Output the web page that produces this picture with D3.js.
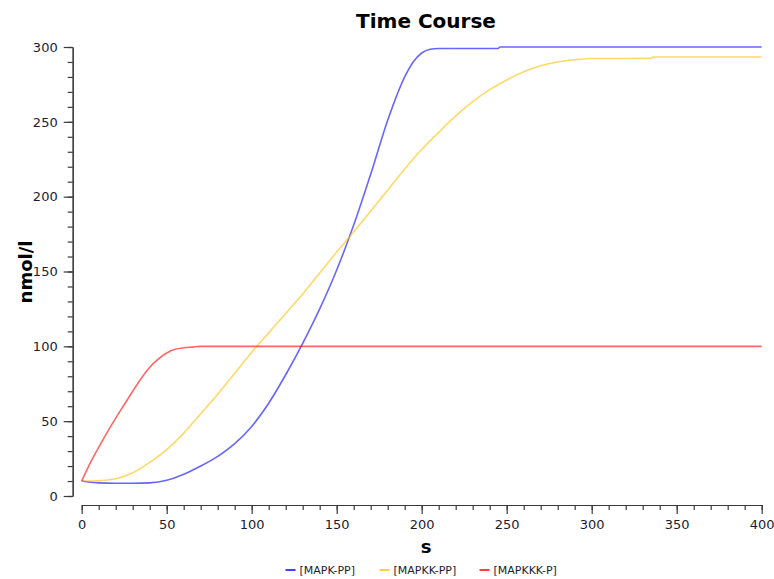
<!DOCTYPE html>
<html>
<head>
<meta charset="utf-8">
<script src="https://cdn.jsdelivr.net/npm/d3@7/dist/d3.min.js"></script>
<style>
  body { margin: 0; background: #fff; }
  svg { display: block; font-family: 'DejaVu Sans', Verdana, sans-serif; }
</style>
</head>
<body>
<svg id="chart" width="774" height="579"></svg>
<script>
// time course data (s -> nmol/l)
const mapkPP_t = [0, 5, 10, 20, 30, 40, 50, 60, 70, 80, 90, 100, 110, 120, 130, 140, 150, 160, 170, 180, 190, 195, 200, 205, 210, 245, 246, 400];
const mapkPP_v = [10, 9.2, 8.8, 8.5, 8.5, 8.8, 10.5, 14.5, 20, 26.5, 35, 46.5, 62, 81, 102, 125, 151, 181, 215, 251, 280, 290, 296, 298.5, 299, 299, 300, 300];

const mapkkPP_t = [0, 10, 20, 30, 40, 50, 60, 70, 80, 90, 100, 110, 120, 130, 140, 150, 160, 170, 180, 190, 200, 210, 220, 230, 240, 250, 260, 270, 280, 290, 300, 335, 336, 400];
const mapkkPP_v = [10, 10.2, 11.5, 15.5, 22.5, 31, 42, 55, 68, 82, 96, 109, 122, 135, 149, 163, 176.5, 190.5, 204.5, 218.5, 231.5, 243, 254, 263.5, 271.5, 278, 283.5, 287.5, 290, 291.5, 292.3, 292.4, 293.3, 293.3];

const mapkkkP_t = [0, 5, 10, 15, 20, 25, 30, 35, 40, 45, 50, 55, 60, 65, 70, 400];
const mapkkkP_v = [10, 22, 32.5, 42.5, 52, 61, 70, 78.5, 86, 91.5, 95.5, 98, 99, 99.5, 100, 100];

const seriesNames = ['[MAPK-PP]', '[MAPKK-PP]', '[MAPKKK-P]'];
const seriesColors = ['#0000ff', '#ffc000', '#ff0000'];

const xMajor = [0, 50, 100, 150, 200, 250, 300, 350, 400];
const yMajor = [0, 50, 100, 150, 200, 250, 300];

const svg = d3.select('#chart');

const x = d3.scaleLinear().domain([0, 400]).range([81.7, 761.7]);
const y = d3.scaleLinear().domain([0, 300]).range([496, 47]);

const series = [
  { name: seriesNames[0], color: seriesColors[0], t: mapkPP_t, v: mapkPP_v },
  { name: seriesNames[1], color: seriesColors[1], t: mapkkPP_t, v: mapkkPP_v },
  { name: seriesNames[2], color: seriesColors[2], t: mapkkkP_t, v: mapkkkP_v },
];

const styleAxis = (g) => {
  g.selectAll('path').attr('stroke', '#3a3a3a').attr('stroke-width', 1.2);
  g.selectAll('line').attr('stroke', '#3a3a3a').attr('stroke-width', 1.2);
  g.selectAll('text')
    .attr('fill', '#1c1c30')
    .style('font-size', '13px')
    .style('font-family', "'DejaVu Sans', Verdana, sans-serif");
};

// minor ticks first (no labels), then the labelled major ticks
svg.append('g')
  .attr('transform', 'translate(72.7,0)')
  .call(d3.axisLeft(y).tickValues(d3.range(0, 301, 10)).tickSize(5).tickSizeOuter(0).tickFormat(''))
  .call(styleAxis);

svg.append('g')
  .attr('transform', 'translate(72.7,0)')
  .call(d3.axisLeft(y).tickValues(yMajor).tickSize(9).tickPadding(6).tickSizeOuter(0))
  .call(styleAxis);

svg.append('g')
  .attr('transform', 'translate(0,505)')
  .call(d3.axisBottom(x).tickValues(d3.range(0, 401, 10)).tickSize(5).tickSizeOuter(0).tickFormat(''))
  .call(styleAxis);

svg.append('g')
  .attr('transform', 'translate(0,505)')
  .call(d3.axisBottom(x).tickValues(xMajor).tickSize(9).tickPadding(6).tickSizeOuter(0))
  .call(styleAxis);

// curves
const line = d3.line()
  .x((d) => x(d[0]))
  .y((d) => y(d[1]))
  .curve(d3.curveMonotoneX);

series.forEach((s) => {
  const pts = s.t.map((t, i) => [t, s.v[i]]);
  svg.append('path')
    .datum(pts)
    .attr('fill', 'none')
    .attr('stroke', s.color)
    .attr('stroke-opacity', 0.6)
    .attr('stroke-width', 1.6)
    .attr('d', line);
});

// title and axis labels
svg.append('text')
  .attr('x', 426)
  .attr('y', 28)
  .attr('text-anchor', 'middle')
  .style('font-size', '20px')
  .style('font-weight', 'bold')
  .text('Time Course');

svg.append('text')
  .attr('transform', 'translate(32,272) rotate(-90)')
  .attr('text-anchor', 'middle')
  .style('font-size', '18px')
  .style('font-weight', 'bold')
  .text('nmol/l');

svg.append('text')
  .attr('x', 426)
  .attr('y', 553)
  .attr('text-anchor', 'middle')
  .style('font-size', '18px')
  .style('font-weight', 'bold')
  .text('s');

// legend
const legendX = [299.5, 393.5, 493.5];
series.forEach((s, i) => {
  const lg = svg.append('g').attr('transform', `translate(${legendX[i]},570)`);
  lg.append('line')
    .attr('x1', -14).attr('x2', -4)
    .attr('stroke', s.color)
    .attr('stroke-width', 1.5);
  lg.append('text')
    .attr('x', 0)
    .attr('dy', '0.35em')
    .attr('fill', '#1c1c30')
    .style('font-size', '11px')
    .text(s.name);
});
</script>
</body>
</html>
